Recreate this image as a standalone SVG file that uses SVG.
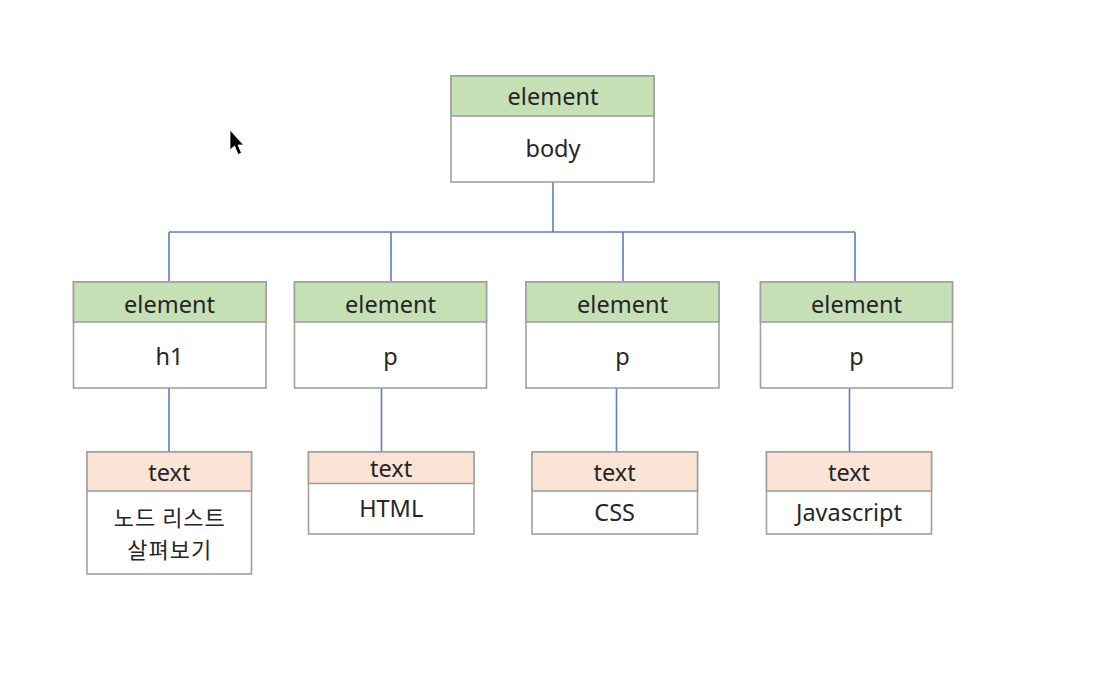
<svg xmlns="http://www.w3.org/2000/svg" width="1095" height="684" viewBox="0 0 1095 684">
<style>
.box{fill:#ffffff;stroke:#a0a0a0;stroke-width:1.6}
.hg{fill:#c5e0b4;stroke:#a0a0a0;stroke-width:1.6}
.hp{fill:#fbe4d5;stroke:#a0a0a0;stroke-width:1.6}
.t{font-family:"Noto Sans","Noto Sans CJK KR",sans-serif;font-size:23.5px;fill:#262626;text-anchor:middle}
.k{font-family:"Noto Sans CJK KR",sans-serif;font-size:22px;letter-spacing:1px}
.c{stroke:#5b7fc0;stroke-width:1.6;fill:none}
</style>
<rect width="1095" height="684" fill="#ffffff"/>
<g id="connectors">
<path class="c" d="M553,182 V232 M169,232 H855 M169,232 V282 M391,232 V282 M623,232 V282 M855,232 V282"/>
<path class="c" d="M169,388 V452 M381.5,388 V452 M616.5,388 V452 M849.5,388 V452"/>
</g>
<g id="body">
<rect class="box" x="451" y="76" width="203" height="106"/>
<rect class="hg" x="451" y="76" width="203" height="40"/>
<text class="t" x="553" y="105">element</text>
<text class="t" x="553" y="157">body</text>
</g>
<g id="h1">
<rect class="box" x="73.5" y="282" width="192.5" height="106"/>
<rect class="hg" x="73.5" y="282" width="192.5" height="40"/>
<text class="t" x="169.5" y="313">element</text>
<text class="t" x="169.5" y="365">h1</text>
</g>
<g id="p1">
<rect class="box" x="294.5" y="282" width="192" height="106"/>
<rect class="hg" x="294.5" y="282" width="192" height="40"/>
<text class="t" x="390.5" y="313">element</text>
<text class="t" x="390.5" y="365">p</text>
</g>
<g id="p2">
<rect class="box" x="526" y="282" width="193" height="106"/>
<rect class="hg" x="526" y="282" width="193" height="40"/>
<text class="t" x="622.5" y="313">element</text>
<text class="t" x="622.5" y="365">p</text>
</g>
<g id="p3">
<rect class="box" x="760.5" y="282" width="192" height="106"/>
<rect class="hg" x="760.5" y="282" width="192" height="40"/>
<text class="t" x="856.5" y="313">element</text>
<text class="t" x="856.5" y="365">p</text>
</g>
<g id="text1">
<rect class="box" x="87" y="452" width="164.5" height="122"/>
<rect class="hp" x="87" y="452" width="164.5" height="39"/>
<text class="t" x="169.3" y="480.5">text</text>
<text class="t k" x="169.8" y="526">노드 리스트</text>
<text class="t k" x="169.8" y="558">살펴보기</text>
</g>
<g id="text2">
<rect class="box" x="308.5" y="452" width="165.5" height="82"/>
<rect class="hp" x="308.5" y="452" width="165.5" height="31.5"/>
<text class="t" x="391.2" y="477">text</text>
<text class="t" x="391.2" y="517">HTML</text>
</g>
<g id="text3">
<rect class="box" x="532" y="452" width="165.5" height="82"/>
<rect class="hp" x="532" y="452" width="165.5" height="39"/>
<text class="t" x="614.7" y="480.5">text</text>
<text class="t" x="614.7" y="521">CSS</text>
</g>
<g id="text4">
<rect class="box" x="766.5" y="452" width="165" height="82"/>
<rect class="hp" x="766.5" y="452" width="165" height="39"/>
<text class="t" x="849" y="480.5">text</text>
<text class="t" x="849" y="521">Javascript</text>
</g>
<path d="M230,130 L230,150 L234.5,146 L238,154.5 L241.5,153 L238,145 L243.5,145 Z" fill="#000000" stroke="#ffffff" stroke-width="0.8"/>
</svg>
